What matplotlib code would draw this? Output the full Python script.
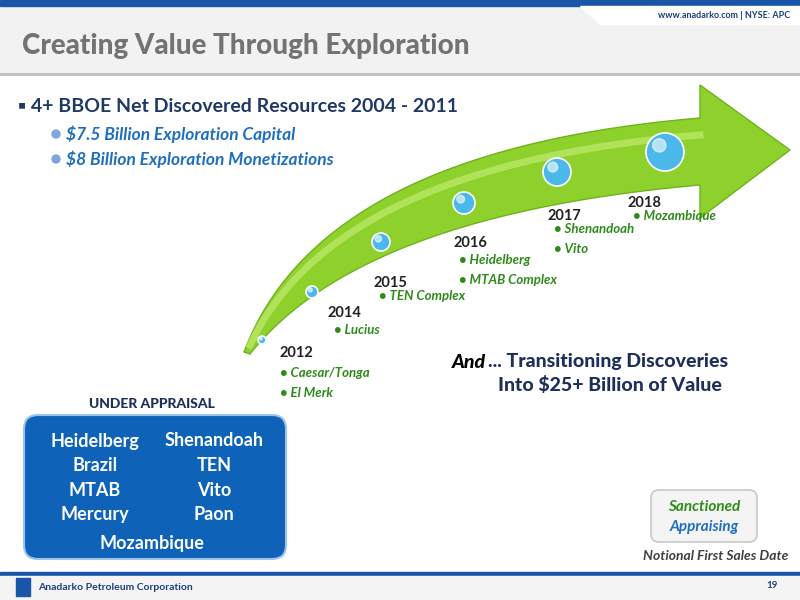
import matplotlib
matplotlib.use("Agg")
import matplotlib.pyplot as plt
import numpy as np
from matplotlib.patches import Polygon, FancyBboxPatch, Rectangle, Circle

plt.rcParams['font.family'] = ['Lato', 'DejaVu Sans']

years = ["2012", "2014", "2015", "2016", "2017", "2018"]
projects = [["Caesar/Tonga", "El Merk"], ["Lucius"], ["TEN Complex"],
            ["Heidelberg", "MTAB Complex"], ["Shenandoah", "Vito"], ["Mozambique"]]
appraisal_left = ["Heidelberg", "Brazil", "MTAB", "Mercury"]
appraisal_right = ["Shenandoah", "TEN", "Vito", "Paon"]
appraisal_bottom = "Mozambique"

fig = plt.figure(figsize=(8, 6), dpi=100)
ax = fig.add_axes([0, 0, 1, 1])
ax.set_xlim(0, 800); ax.set_ylim(600, 0); ax.axis('off')

# header
ax.add_patch(Rectangle((0, 0), 800, 75, color='#f2f2f2', zorder=0))
ax.add_patch(Rectangle((0, 0), 800, 6, color='#1a56a8'))
ax.add_patch(Polygon([[580, 6], [800, 6], [800, 24], [600, 24]], color='white', zorder=1))
ax.text(790, 15, "www.anadarko.com | NYSE: APC", ha='right', va='center', fontsize=6.5,
        color='#1a3f7a', fontweight='bold')
ax.text(22, 46, "Creating Value Through Exploration", fontsize=20, fontweight='black',
        color='#737373', va='center')
ax.plot([0, 800], [74, 74], color='#bfbfbf', lw=2)

# bullets
ax.text(18, 106, "▪ 4+ BBOE Net Discovered Resources 2004 - 2011", fontsize=14,
        fontweight='bold', color='#1f3864', va='center')
for y, t in [(134, "$7.5 Billion Exploration Capital"), (159, "$8 Billion Exploration Monetizations")]:
    ax.add_patch(Circle((56, y), 4, color='#7fa8d8'))
    ax.text(66, y, t, fontsize=12.5, fontweight='bold', style='italic', color='#1f6fbf', va='center')

# arrow
t = np.linspace(0, 1, 60)
def qb(p0, p1, p2):
    return np.outer((1 - t) ** 2, p0) + np.outer(2 * (1 - t) * t, p1) + np.outer(t ** 2, p2)
upper = qb(np.array([244, 352]), np.array([320, 150]), np.array([700, 118]))
lower = qb(np.array([250, 354]), np.array([360, 215]), np.array([700, 185]))
pts = np.vstack([upper, [[700, 85], [790, 150], [700, 218]], lower[::-1]])
ax.add_patch(Polygon(pts, closed=True, facecolor='#8fd12c', edgecolor='#6fb31a', lw=1, zorder=2))
inner = qb(np.array([250, 345]), np.array([335, 165]), np.array([700, 135]))
ax.plot(inner[:, 0], inner[:, 1], color='#c9f07a', lw=5, alpha=0.6, zorder=3)

dots = [(262, 340, 4), (312, 292, 6), (381, 242, 9), (464, 203, 11), (557, 172, 14), (665, 152, 19)]
for x, y, r in dots:
    ax.add_patch(Circle((x, y), r, facecolor='#4ab8e8', edgecolor='white', lw=1.2, zorder=4))
    ax.add_patch(Circle((x - r * 0.3, y - r * 0.35), r * 0.35, color='white', alpha=0.6, zorder=5))

lab = [(280, 353), (328, 313), (373, 283), (453, 243), (548, 216), (627, 203)]
for (x, y), yr, pr in zip(lab, years, projects):
    ax.text(x, y, yr, fontsize=10.5, fontweight='bold', color='#222222', va='center')
    for i, p in enumerate(pr):
        ax.text(x + 6 if yr != "2012" else x, y + 17 + i * 20 - (4 if yr in ("2015", "2017", "2018") else 0) + (3 if yr == "2012" else 0),
                "• " + p, fontsize=9.5, fontweight='bold', style='italic', color='#2e8b1a', va='center')

ax.text(486, 362, "And", fontsize=14, fontweight='black', style='italic', color='black',
        ha='right', va='center')
ax.text(488, 362, "... Transitioning Discoveries", fontsize=14, fontweight='black',
        color='#1f2f5a', ha='left', va='center')
ax.text(610, 385, "Into $25+ Billion of Value", fontsize=14, fontweight='black',
        color='#1f2f5a', ha='center', va='center')

# under appraisal box
ax.text(152, 404, "UNDER APPRAISAL", fontsize=10, fontweight='black', color='#1f2f5a', ha='center', va='center')
ax.add_patch(FancyBboxPatch((24, 415), 262, 144, boxstyle="round,pad=0,rounding_size=14",
                            facecolor='#0e63b8', edgecolor='#9cc3ea', lw=1.5, zorder=2))
for i, (l, r) in enumerate(zip(appraisal_left, appraisal_right)):
    y = 441 + i * 24.5
    ax.text(95, y, l, fontsize=13, fontweight='bold', color='white', ha='center', va='center', zorder=3)
    ax.text(214, y, r, fontsize=13, fontweight='bold', color='white', ha='center', va='center', zorder=3)
ax.text(152, 544, appraisal_bottom, fontsize=13, fontweight='bold', color='white', ha='center', va='center', zorder=3)

# legend box
ax.add_patch(FancyBboxPatch((651, 490), 106, 52, boxstyle="round,pad=0,rounding_size=8",
                            facecolor='#f4f4f4', edgecolor='#c8c8c8', lw=1.2))
ax.text(704, 507, "Sanctioned", fontsize=11, fontweight='bold', style='italic', color='#2e8b1a', ha='center', va='center')
ax.text(704, 527, "Appraising", fontsize=11, fontweight='bold', style='italic', color='#1f6fbf', ha='center', va='center')
ax.text(788, 556, "Notional First Sales Date", fontsize=10, fontweight='bold', style='italic',
        color='#404040', ha='right', va='center')

# footer
ax.add_patch(Rectangle((0, 572), 800, 4, color='#1a56a8'))
ax.add_patch(Rectangle((0, 576), 800, 24, color='#f4f4f4'))
ax.text(38, 588, "Anadarko Petroleum Corporation", fontsize=7.5, fontweight='bold', color='#1f3f7a', va='center')
ax.text(778, 585, "19", fontsize=7, color='#1f3f7a', ha='right', va='center', fontweight='bold')
ax.add_patch(Rectangle((16, 578), 14, 18, color='#1a56a8'))

fig.savefig("out.png", dpi=100)
